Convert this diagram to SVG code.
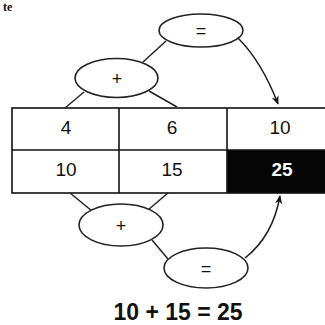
<svg xmlns="http://www.w3.org/2000/svg" width="325" height="325" viewBox="0 0 325 325">
  <defs>
    <marker id="arrow" viewBox="0 0 10 10" refX="9" refY="5" markerWidth="9" markerHeight="9" markerUnits="userSpaceOnUse" orient="auto">
      <path d="M0,1 L10,5 L0,9 L3,5 Z" fill="#111"/>
    </marker>
  </defs>
  <style>
    .bubble { fill: #fff; stroke: #222; stroke-width: 1.6; }
    .op { font-family: "Liberation Sans", Arial, sans-serif; font-size: 18px; fill: #111; text-anchor: middle; }
    .cell { fill: none; stroke: #111; stroke-width: 1.6; }
    .num { font-family: "Liberation Sans", Arial, sans-serif; font-size: 19px; fill: #111; text-anchor: middle; }
    .num.inv { fill: #fff; font-weight: bold; }
    .link { fill: none; stroke: #222; stroke-width: 1.5; }
    .caption { font-family: "Liberation Sans", Arial, sans-serif; font-size: 23px; font-weight: bold; fill: #111; text-anchor: middle; }
  </style>

  <rect width="325" height="325" fill="#fff"/>

  <!-- heading fragment at the top edge -->
  <text x="3" y="11" font-family="Liberation Serif, serif" font-size="12" font-weight="bold" fill="#111">te</text>

  <!-- number table -->
  <g id="table">
    <rect x="227" y="150" width="100" height="43" fill="#050505"/>
    <rect class="cell" x="12" y="108" width="320" height="85"/>
    <line class="cell" x1="12" y1="150" x2="330" y2="150"/>
    <line class="cell" x1="119" y1="108" x2="119" y2="193"/>
    <line class="cell" x1="227" y1="108" x2="227" y2="193"/>
    <text class="num" x="66" y="134">4</text>
    <text class="num" x="172" y="134">6</text>
    <text class="num" x="280" y="134">10</text>
    <text class="num" x="66" y="176">10</text>
    <text class="num" x="172" y="176">15</text>
    <text class="num inv" x="282" y="176">25</text>
  </g>

  <!-- connectors -->
  <g id="connectors">
    <line class="link" x1="65" y1="108" x2="84" y2="92"/>
    <line class="link" x1="149" y1="91" x2="177" y2="107"/>
    <line class="link" x1="143" y1="62" x2="166" y2="41"/>
    <path class="link" d="M238,38 Q262,62 278,104" marker-end="url(#arrow)"/>
    <line class="link" x1="70" y1="193" x2="92" y2="211"/>
    <line class="link" x1="168" y1="193" x2="148" y2="210"/>
    <line class="link" x1="152" y1="240" x2="168" y2="259"/>
    <path class="link" d="M245,258 Q273,236 280,196" marker-end="url(#arrow)"/>
  </g>

  <!-- operation bubbles -->
  <g id="eq-top">
    <ellipse class="bubble" cx="201" cy="30.5" rx="42" ry="16.5"/>
    <text class="op" x="201" y="37">=</text>
  </g>
  <g id="plus-top">
    <ellipse class="bubble" cx="116.5" cy="78" rx="41.5" ry="19.5"/>
    <text class="op" x="117" y="85">+</text>
  </g>
  <g id="plus-bottom">
    <ellipse class="bubble" cx="121" cy="225" rx="42" ry="21"/>
    <text class="op" x="121" y="232">+</text>
  </g>
  <g id="eq-bottom">
    <ellipse class="bubble" cx="206" cy="268" rx="42" ry="20"/>
    <text class="op" x="206" y="275">=</text>
  </g>

  <!-- resulting equation -->
  <text class="caption" x="178" y="320">10 + 15 = 25</text>
</svg>
